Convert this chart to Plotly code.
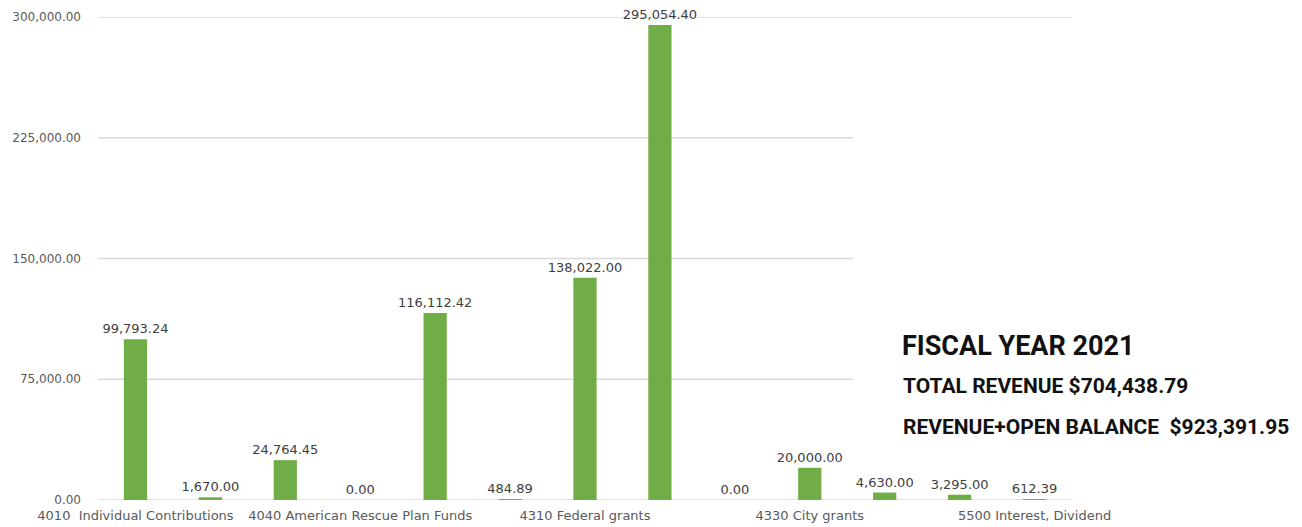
import plotly.graph_objects as go

values = [99793.24, 1670.00, 24764.45, 0.00, 116112.42, 484.89, 138022.00,
          295054.40, 0.00, 20000.00, 4630.00, 3295.00, 612.39]
positions = list(range(len(values)))
tick_positions = [0, 3, 6, 9, 12]
tick_labels = ["4010  Individual Contributions", "4040 American Rescue Plan Funds",
               "4310 Federal grants", "4330 City grants", "5500 Interest, Dividend"]
y_ticks = [0, 75000, 150000, 225000, 300000]
y_tick_labels = [f"{v:,.2f}" for v in y_ticks]
value_labels = [f"{v:,.2f}" for v in values]

OFF = 8  # page body margin
W, H = 1302, 527
L, R, T, B = 98 - OFF, W - (1072 - OFF), 17 - OFF, H - (500 - OFF)
pw, ph = W - L - R, H - T - B

def px_x(p):
    return (p - OFF - L) / pw

def px_y(p):
    return (H - B - (p - OFF)) / ph

fig = go.Figure(go.Bar(
    x=positions, y=values, text=value_labels, textposition="outside",
    constraintext="none",
    textfont=dict(family="DejaVu Sans", size=13, color="#404040"),
    marker=dict(color="#70AD47", line=dict(width=0)),
    width=0.31, cliponaxis=False, hoverinfo="skip"))

fig.update_layout(
    width=W, height=H, margin=dict(l=L, r=R, t=T, b=B, autoexpand=False),
    paper_bgcolor="white", plot_bgcolor="white", showlegend=False,
    xaxis=dict(range=[-0.5, 12.5], tickvals=tick_positions, ticktext=tick_labels,
               showgrid=False, zeroline=False, showline=False, ticks="",
               automargin=False,
               tickfont=dict(family="DejaVu Sans", size=13, color="#595959"),
               ticklabelstandoff=6),
    yaxis=dict(range=[0, 300000], tickvals=y_ticks, ticktext=y_tick_labels,
               showgrid=False, zeroline=False, showline=False, ticks="",
               automargin=False,
               tickfont=dict(family="DejaVu Sans", size=12, color="#595959"),
               ticklabelstandoff=16),
)

# gridlines: full width for 0 and top, partial (hidden behind the text box) for others
for v in y_ticks:
    x1 = 1.0 if v in (0, 300000) else px_x(853)
    fig.add_shape(type="line", xref="paper", yref="y", x0=0, x1=x1, y0=v, y1=v,
                  line=dict(color="#d9d9d9", width=1.5), layer="below")

fig.add_annotation(text="<b>FISCAL YEAR 2021</b>", xref="paper", yref="paper",
                   x=px_x(900), y=px_y(346), xanchor="left", yanchor="middle",
                   showarrow=False, font=dict(family="Roboto", size=27, color="#111111"))
fig.add_annotation(text="<b>TOTAL REVENUE $704,438.79</b>", xref="paper", yref="paper",
                   x=px_x(901), y=px_y(386), xanchor="left", yanchor="middle",
                   showarrow=False, font=dict(family="Roboto", size=21, color="#111111"))
fig.add_annotation(text="<b>REVENUE+OPEN BALANCE  $923,391.95</b>", xref="paper", yref="paper",
                   x=px_x(901), y=px_y(427), xanchor="left", yanchor="middle",
                   showarrow=False, font=dict(family="Roboto", size=21, color="#111111"))

fig.write_html("out.html")
